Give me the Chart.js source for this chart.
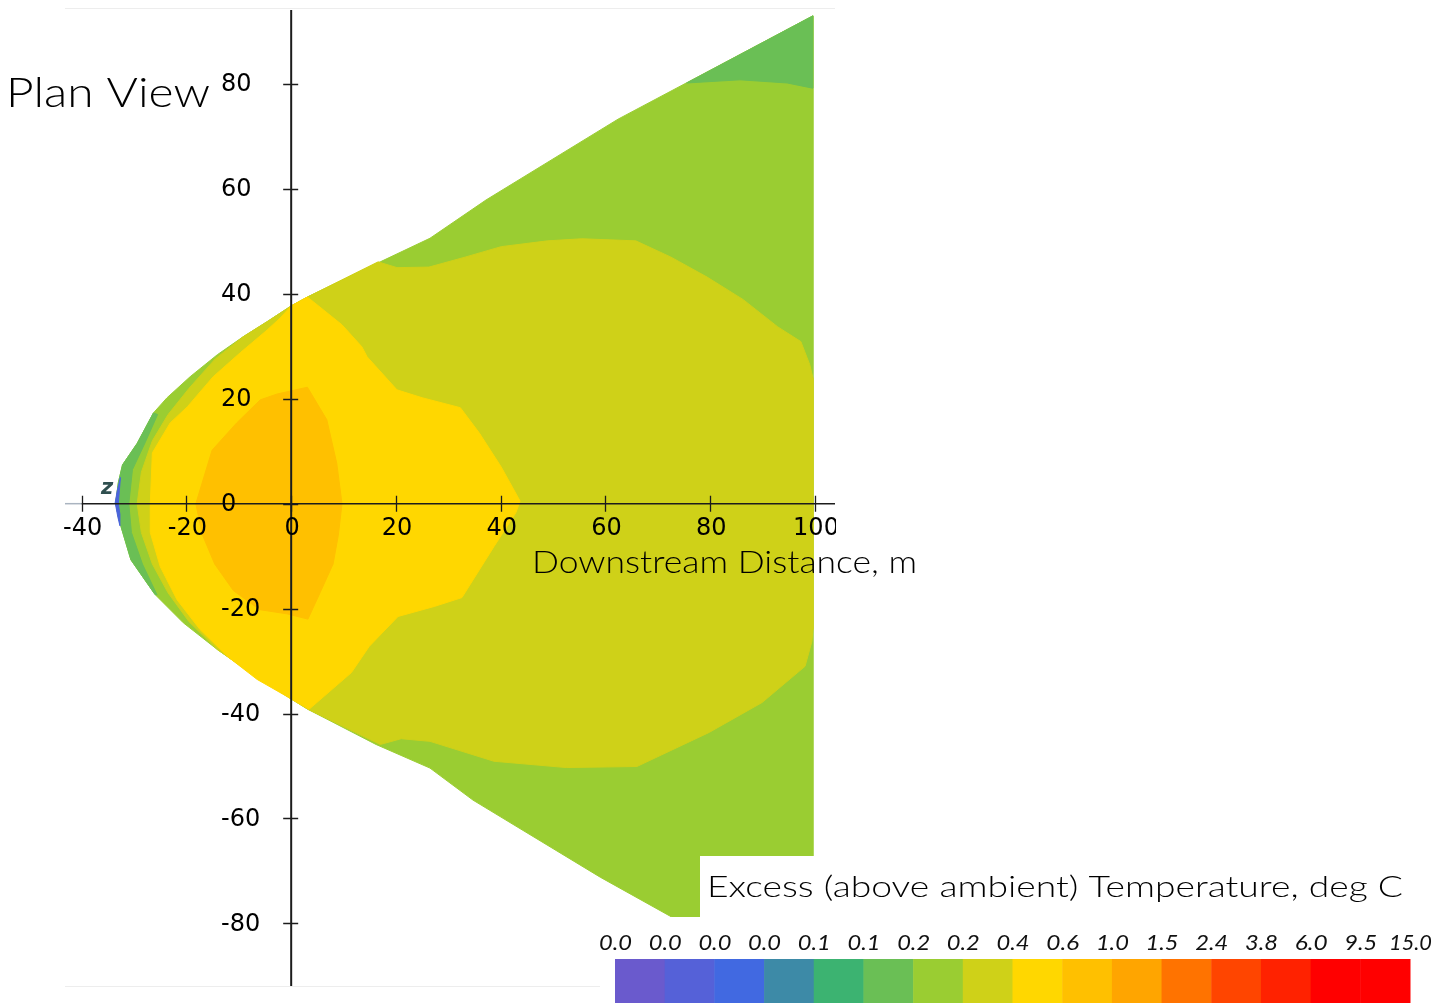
<!DOCTYPE html>
<html>
<head>
<meta charset="utf-8">
<title>Plan View</title>
<script src="https://cdn.jsdelivr.net/npm/chart.js@4.4.1/dist/chart.umd.min.js"></script>
<style>
  body { margin: 0; background: #fff; }
</style>
</head>
<body>
<canvas id="plume" width="1452" height="1003"></canvas>
<script>
// axis ticks, metres
const xTicks = [-40, -20, 0, 20, 40, 60, 80, 100];
const yTicks = [80, 60, 40, 20, 0, -20, -40, -60, -80];

// colour scale of the legend
const scaleLabels = ['0.0', '0.0', '0.0', '0.0', '0.1', '0.1', '0.2', '0.2', '0.4', '0.6', '1.0', '1.5', '2.4', '3.8', '6.0', '9.5', '15.0'];
const scaleColors = ['#6a5acd', '#5561d8', '#4169e1', '#3d8aa7', '#3cb371', '#6abf55', '#9acd32', '#cfd118',
                     '#ffd700', '#ffc000', '#ffa500', '#ff7300', '#ff4500', '#ff2200', '#ff0000', '#ff0000'];

// contour outlines, [downstream m, lateral m]
const plumeEdge = [[-33.5, 0.2], [-33.0, 4.0], [-32.2, 7.4], [-29.4, 11.5], [-26.3, 17.3], [-23.7, 20.2], [-19.3, 24.2],
  [-14.1, 28.4], [-9.2, 31.8], [-4.6, 34.7], [0, 37.7], [3.1, 39.4], [17.0, 46.1], [26.5, 50.6], [37.2, 57.9],
  [62.4, 73.3], [99.6, 93.0], [99.6, -94.0], [72.3, -78.6], [59.0, -71.2], [34.7, -56.5], [26.5, -50.4],
  [16.2, -45.9], [3.2, -39.2], [-0.2, -37.1], [-7.8, -32.2], [-14.1, -27.8], [-20.6, -22.7], [-26.0, -17.3],
  [-30.6, -10.7], [-32.3, -5.0], [-33.0, -2.5]];

const noseBand = [[-33.5, 0.2], [-33.0, 4.0], [-32.2, 7.4], [-29.4, 11.5], [-26.3, 17.3], [-25.5, 17.0], [-27.9, 11.6],
  [-30.3, 6.5], [-31.0, 0], [-30.5, -5.5], [-28.4, -11.5], [-25.6, -17.4], [-26.0, -17.3], [-30.6, -10.7],
  [-32.3, -5.0], [-33.0, -2.5]];

const noseTip = [[-32.6, 5.0], [-33.2, 2.5], [-33.6, 0.2], [-33.1, -2.5], [-32.7, -4.2], [-32.7, -2.0],
  [-33.0, 0], [-32.8, 2.5]];

const farCorner = [[75.5, 80.2], [85.7, 80.8], [94.7, 80.2], [99.6, 79.2], [99.6, 93.0]];

const band02 = [[-29.4, 0], [-28.6, 6], [-26.5, 12], [-23.5, 17], [-19.5, 22], [-14.5, 27.6], [-9.2, 31.8],
  [-4.6, 34.7], [0, 37.7], [3.1, 39.4], [16.6, 46.1], [20.2, 45.0], [26.3, 45.1], [33.2, 47.0], [40.1, 49.0],
  [48.9, 50.1], [55.5, 50.5], [65.8, 50.1], [72.5, 47.0], [79.4, 43.2], [86.3, 38.9], [92.9, 33.7], [97.3, 30.9],
  [99.0, 26.5], [99.6, 24], [99.6, -24], [99.4, -26.3], [98.1, -31.0], [89.9, -37.9], [79.8, -43.6], [66.0, -50.1],
  [52.5, -50.3], [38.7, -49.1], [26.5, -45.3], [21.0, -44.8], [17.0, -45.9], [3.2, -39.2], [-0.2, -37.1],
  [-7.8, -32.2], [-14.1, -27.8], [-19.5, -22.5], [-23.5, -17.0], [-26.5, -11.5], [-28.6, -5.5]];

const band04 = [[-26.9, 0], [-26.5, 9.7], [-23.1, 15.4], [-19.8, 18.5], [-14.9, 24.2], [-9.7, 28.8], [-4.6, 33.1],
  [-2.1, 35.4], [0, 37.7], [3.1, 39.4], [9.7, 34.1], [13.5, 29.9], [14.5, 28.0], [20.2, 21.7], [25.0, 20.2],
  [32.3, 18.3], [35.9, 13.5], [40.1, 7.0], [43.7, 0.5], [42.9, -1.7], [38.7, -8.2], [32.6, -17.9], [27.3, -19.6],
  [20.4, -21.5], [14.9, -27.2], [11.5, -32.2], [3.4, -39.2], [-0.2, -37.1], [-6.5, -33.5], [-12.2, -29.1],
  [-17.4, -24.0], [-21.8, -18.3], [-25.0, -12.0], [-26.9, -5.5]];

const band06 = [[-18.2, 0], [-15.1, 10.2], [-10.4, 15.4], [-5.9, 19.8], [-2.7, 20.9], [3.1, 22.2], [6.8, 16.0],
  [8.7, 7.7], [9.7, 0], [9.0, -6], [8.0, -11.5], [5.5, -17], [3.2, -22.0], [-0.8, -21.0], [-6.0, -20.2],
  [-11.0, -16.6], [-14.6, -11.5], [-17.0, -5.8]];

// bottom layer first
const layers = [
  { pts: plumeEdge, color: '#9acd32' },
  { pts: noseBand, color: '#6abf55' },
  { pts: noseTip, color: '#4a63dc' },
  { pts: farCorner, color: '#6abf55' },
  { pts: band02, color: '#cfd118' },
  { pts: band04, color: '#ffd700' },
  { pts: band06, color: '#ffc000' }
];

function fitText(ctx, text, x, base, font, width) {
  ctx.font = font;
  const w = ctx.measureText(text).width;
  ctx.save();
  ctx.translate(x, base);
  ctx.scale(width / w, 1);
  ctx.textAlign = 'left';
  ctx.textBaseline = 'alphabetic';
  ctx.fillText(text, 0, 0);
  ctx.restore();
}

const overlay = {
  id: 'overlay',
  afterDatasetsDraw(chart) {
    const { ctx, chartArea: a, scales: { x, y } } = chart;
    const x0 = x.getPixelForValue(0);
    const y0 = y.getPixelForValue(0);
    ctx.save();

    // faint frame lines top and bottom
    ctx.strokeStyle = '#ededed';
    ctx.lineWidth = 1;
    ctx.beginPath();
    ctx.moveTo(a.left, a.top - 1.5); ctx.lineTo(a.right, a.top - 1.5);
    ctx.moveTo(a.left, a.bottom + 0.5); ctx.lineTo(a.right, a.bottom + 0.5);
    ctx.stroke();

    // axes through the origin
    ctx.strokeStyle = '#aab4c0';
    ctx.lineWidth = 1.5;
    ctx.beginPath();
    ctx.moveTo(a.left, y0); ctx.lineTo(x.getPixelForValue(-40), y0);
    ctx.stroke();
    ctx.strokeStyle = '#1c1c1c';
    ctx.beginPath();
    ctx.moveTo(x.getPixelForValue(-40), y0); ctx.lineTo(a.right, y0);
    ctx.stroke();
    ctx.lineWidth = 2;
    ctx.beginPath();
    ctx.moveTo(x0, a.top); ctx.lineTo(x0, a.bottom);
    ctx.stroke();

    ctx.lineWidth = 1.3;
    ctx.beginPath();
    xTicks.forEach(v => {
      const px = Math.round(x.getPixelForValue(v)) + 0.5;
      ctx.moveTo(px, y0 - 8); ctx.lineTo(px, y0 + 8);
    });
    yTicks.forEach(v => {
      const py = Math.round(y.getPixelForValue(v)) + 0.5;
      ctx.moveTo(x0 - 8, py); ctx.lineTo(x0 + 7, py);
    });
    ctx.stroke();

    // tick labels
    ctx.fillStyle = '#000';
    ctx.font = '24px "DejaVu Sans"';
    ctx.textBaseline = 'middle';
    ctx.save();
    ctx.beginPath();
    ctx.rect(0, 0, a.right + 1, chart.height);
    ctx.clip();
    ctx.textAlign = 'center';
    xTicks.forEach(v => ctx.fillText(String(v), x.getPixelForValue(v) + 1, y0 + 25));
    ctx.restore();
    ctx.textAlign = 'left';
    yTicks.forEach(v => ctx.fillText(String(v), 221, y.getPixelForValue(v) + 1));

    // z marker at the source
    ctx.fillStyle = '#2f4f4f';
    ctx.font = 'italic bold 21px "DejaVu Sans"';
    ctx.textAlign = 'center';
    ctx.fillText('z', 107, 489);

    // titles
    ctx.fillStyle = '#000';
    fitText(ctx, 'Plan View', 6, 107, '300 41px Lato', 204);
    fitText(ctx, 'Downstream Distance, m', 532, 573, '300 31px Lato', 385);

    // legend box
    ctx.fillStyle = '#fff';
    ctx.fillRect(700, 856, 752, 147);
    ctx.fillRect(600, 917, 852, 86);
    ctx.fillStyle = '#000';
    fitText(ctx, 'Excess (above ambient) Temperature, deg C', 707, 897, '300 30px Lato', 696);

    const barLeft = 615, barRight = 1410, barTop = 959;
    const bw = (barRight - barLeft) / scaleColors.length;
    scaleColors.forEach((c, i) => {
      ctx.fillStyle = c;
      ctx.fillRect(barLeft + i * bw, barTop, bw + 0.5, chart.height - barTop);
    });
    ctx.fillStyle = '#111';
    scaleLabels.forEach((t, i) => fitText(ctx, t, barLeft + i * bw - (t.length > 3 ? 21 : 16), 950,
      'italic 21px Lato', t.length > 3 ? 43 : 33));

    ctx.restore();
  }
};

const ctx = document.getElementById('plume').getContext('2d');
const plumeChart = new Chart(ctx, {
  type: 'line',
  data: {
    datasets: layers.map((l, i) => ({
      data: l.pts.concat([l.pts[0]]).map(p => ({ x: p[0], y: p[1] })),
      backgroundColor: l.color,
      borderColor: l.color,
      borderWidth: 1,
      fill: 'shape',
      pointRadius: 0,
      tension: 0,
      order: layers.length - i
    }))
  },
  options: {
    responsive: false,
    animation: false,
    layout: { padding: { left: 65, right: 617, top: 10, bottom: 17 } },
    plugins: { legend: { display: false }, tooltip: { enabled: false } },
    scales: {
      x: { type: 'linear', min: -43.18, max: 103.82, display: false },
      y: { type: 'linear', min: -91.94, max: 94.11, display: false }
    }
  },
  plugins: [overlay]
});
</script>
</body>
</html>
